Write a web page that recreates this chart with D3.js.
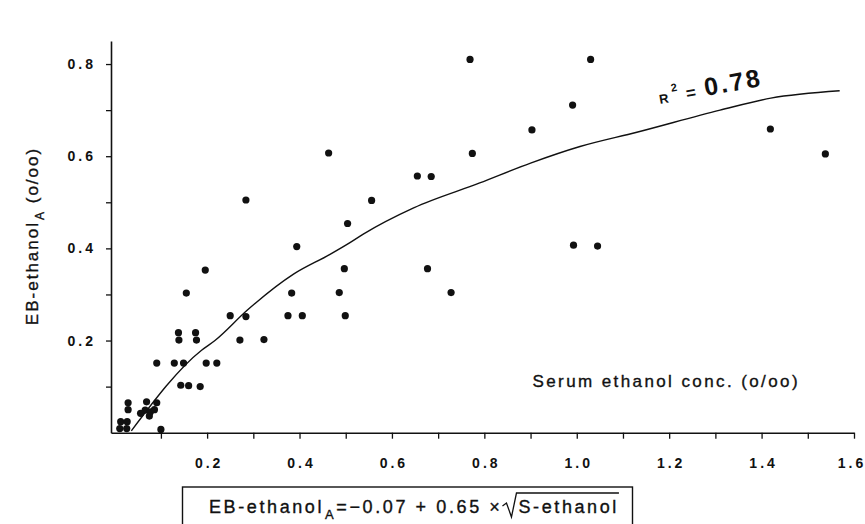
<!DOCTYPE html>
<html>
<head>
<meta charset="utf-8">
<script src="https://cdn.jsdelivr.net/npm/d3@7"></script>
<style>
  body { margin: 0; background: #fff; }
  svg { display: block; font-family: "Liberation Sans", Arial, sans-serif; }
  .tick-label { font-size: 14px; font-weight: bold; letter-spacing: 3px; fill: #111; }
  .title { font-size: 16px; letter-spacing: 2px; fill: #111; stroke: #111; stroke-width: 0.35px; }
</style>
</head>
<body>
<svg id="chart" width="865" height="524"></svg>
<script>
// Serum ethanol (x) vs EB-ethanol A (y)
const serum = [
  0.769, 1.03, 0.991, 0.903, 1.419, 1.538, 0.463, 0.774, 0.655, 0.685,
  0.556, 0.284, 0.504, 0.394, 0.993, 1.045, 0.196, 0.497, 0.677, 0.155,
  0.383, 0.486, 0.728, 0.25, 0.284, 0.375, 0.406, 0.499, 0.138, 0.175,
  0.139, 0.177, 0.271, 0.323, 0.091, 0.129, 0.149, 0.198, 0.221, 0.143,
  0.16, 0.185, 0.029, 0.029, 0.069, 0.066, 0.056, 0.077, 0.075, 0.086,
  0.091, 0.1, 0.013, 0.027, 0.011, 0.026
];
const ebEthanol = [
  0.81, 0.81, 0.711, 0.657, 0.659, 0.605, 0.607, 0.606, 0.557, 0.556,
  0.504, 0.505, 0.454, 0.404, 0.407, 0.405, 0.353, 0.356, 0.356, 0.303,
  0.303, 0.304, 0.304, 0.254, 0.252, 0.254, 0.254, 0.254, 0.217, 0.217,
  0.201, 0.201, 0.201, 0.202, 0.151, 0.151, 0.151, 0.151, 0.151, 0.103,
  0.102, 0.1, 0.065, 0.05, 0.067, 0.049, 0.042, 0.045, 0.036, 0.05,
  0.065, 0.007, 0.024, 0.024, 0.009, 0.009
];

// fitted curve as drawn in the figure
const fitX = [0.036, 0.188, 0.217, 0.286, 0.387, 0.466, 0.51, 0.538, 0.647, 0.79, 0.9, 1.007, 1.13, 1.31, 1.42, 1.569];
const fitY = [0.004, 0.179, 0.2, 0.265, 0.344, 0.387, 0.413, 0.431, 0.488, 0.542, 0.585, 0.621, 0.652, 0.70, 0.726, 0.742];

const xTicks = [0.1, 0.2, 0.3, 0.4, 0.5, 0.6, 0.7, 0.8, 0.9, 1.0, 1.1, 1.2, 1.3, 1.4, 1.5, 1.6];
const xLabels = [0.2, 0.4, 0.6, 0.8, 1.0, 1.2, 1.4, 1.6];
const yTicks = [0.1, 0.2, 0.3, 0.4, 0.5, 0.6, 0.7, 0.8];
const yLabels = [0.2, 0.4, 0.6, 0.8];

const svg = d3.select('#chart');
const W = 865;

const x = d3.scaleLinear().domain([-0.008, 1.6]).range([111, 854]);
const y = d3.scaleLinear().domain([0, 0.85]).range([432.7, 41]);

const fmt = d3.format('.1f');

// x axis
const xAxis = svg.append('g')
  .attr('transform', `translate(0,${y(0)})`)
  .call(d3.axisBottom(x).tickValues(xTicks).tickSize(6).tickSizeOuter(0).tickFormat(''));
xAxis.select('.domain').attr('stroke', '#111').attr('stroke-width', 1.6);
xAxis.selectAll('.tick line').attr('stroke', '#111').attr('stroke-width', 1.3);

svg.append('g').selectAll('text')
  .data(xLabels)
  .join('text')
  .attr('class', 'tick-label')
  .attr('x', d => Math.min(x(d) + 2, W - 13))
  .attr('y', y(0) + 35)
  .attr('text-anchor', 'middle')
  .text(fmt);

// y axis
const yAxis = svg.append('g')
  .attr('transform', `translate(${x(-0.008)},0)`)
  .call(d3.axisLeft(y).tickValues(yTicks).tickSize(5).tickSizeOuter(0).tickFormat(''));
yAxis.select('.domain').attr('stroke', '#111').attr('stroke-width', 1.6);
yAxis.selectAll('.tick line').attr('stroke', '#111').attr('stroke-width', 1.3);

svg.append('g').selectAll('text')
  .data(yLabels)
  .join('text')
  .attr('class', 'tick-label')
  .attr('x', 96)
  .attr('y', d => y(d) + 5)
  .attr('text-anchor', 'end')
  .text(fmt);

// fitted curve
const fit = fitX.map((v, i) => [v, fitY[i]]);
svg.append('path')
  .datum(fit)
  .attr('fill', 'none')
  .attr('stroke', '#111')
  .attr('stroke-width', 1.4)
  .attr('d', d3.line().x(d => x(d[0])).y(d => y(d[1])).curve(d3.curveMonotoneX));

// points
const pts = serum.map((v, i) => [v, ebEthanol[i]]);
svg.append('g').selectAll('circle')
  .data(pts)
  .join('circle')
  .attr('cx', d => x(d[0]))
  .attr('cy', d => y(d[1]))
  .attr('r', 3.6)
  .attr('fill', '#111');

// R^2 label, tilted along the curve
const r2 = svg.append('g').attr('transform', 'translate(660,104) rotate(-10)');
const r2t = r2.append('text').attr('fill', '#111').style('font-weight', 'bold');
r2t.append('tspan').attr('font-size', 13).text('R');
r2t.append('tspan').attr('font-size', 11).attr('dy', -10).attr('dx', 4).text('2');
r2t.append('tspan').attr('font-size', 17).attr('dy', 10).attr('dx', 8).text('=');
r2t.append('tspan').attr('font-size', 25).attr('dx', 9).style('letter-spacing', '2.5px').text('0.78');

// axis titles
const yt = svg.append('text')
  .attr('class', 'title')
  .attr('transform', 'translate(38,236) rotate(-90)')
  .attr('text-anchor', 'middle')
  .style('font-size', '17px');
yt.append('tspan').text('EB-ethanol');
yt.append('tspan').attr('font-size', 12).attr('dy', 6).attr('dx', 1).text('A');
yt.append('tspan').attr('dy', -6).text(' (o/oo)');

svg.append('text')
  .attr('class', 'title')
  .attr('x', 800)
  .attr('y', 387)
  .attr('text-anchor', 'end')
  .style('font-size', '17px')
  .style('letter-spacing', '2.4px')
  .text('Serum ethanol conc. (o/oo)');

// formula box
svg.append('rect')
  .attr('x', 182.5)
  .attr('y', 487)
  .attr('width', 450)
  .attr('height', 45)
  .attr('fill', 'none')
  .attr('stroke', '#111')
  .attr('stroke-width', 1.4);

const ft = svg.append('text')
  .attr('class', 'title')
  .attr('x', 209)
  .attr('y', 513)
  .style('font-size', '18px')
  .style('letter-spacing', '2.6px');
ft.append('tspan').text('EB-ethanol');
ft.append('tspan').attr('font-size', 13).attr('dy', 6).attr('dx', 1).text('A');
ft.append('tspan').attr('dy', -6).text('=\u22120.07 + 0.65 \u00d7');

// square root sign over S-ethanol, placed right after the formula text
const sx = 209 + ft.node().getComputedTextLength() + 1;
const st = svg.append('text')
  .attr('class', 'title')
  .attr('x', sx + 16)
  .attr('y', 513)
  .style('font-size', '18px')
  .style('letter-spacing', '2.6px')
  .text('S-ethanol');
const sw = st.node().getComputedTextLength() + 16;
svg.append('path')
  .attr('d', `M${sx},506 L${sx + 4},503 L${sx + 9},517 L${sx + 14},493 L${sx + sw},493`)
  .attr('fill', 'none')
  .attr('stroke', '#111')
  .attr('stroke-width', 1.3);
</script>
</body>
</html>
